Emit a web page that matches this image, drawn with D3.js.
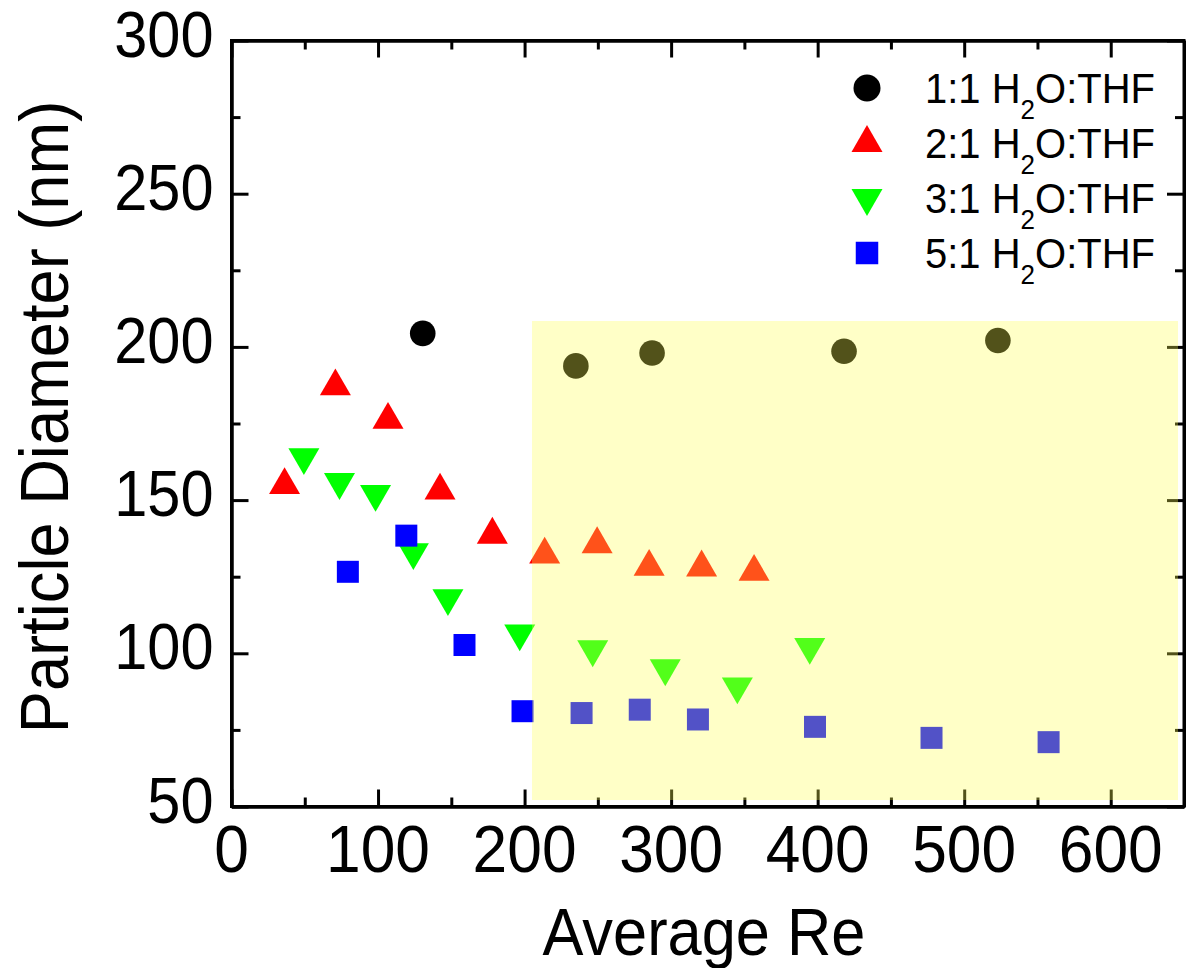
<!DOCTYPE html>
<html>
<head>
<meta charset="utf-8">
<script src="https://cdn.jsdelivr.net/npm/d3@7"></script>
<style>
  html, body { margin: 0; padding: 0; background: #fff; }
  svg { display: block; font-family: "Liberation Sans", Arial, Helvetica, sans-serif; }
</style>
</head>
<body>
<svg id="chart" width="1192" height="968"></svg>
<script>
// Particle diameter vs. average Reynolds number for four H2O:THF ratios
const re11 = [130.5, 235, 287, 418, 523];
const d11  = [204.4, 193.8, 198, 198.6, 202.1];

const re21 = [36.2, 70.9, 106.8, 142.3, 178, 213.7, 249.5, 285, 320.8, 356.6];
const d21  = [154.9, 187.1, 176.2, 153.1, 138.7, 132.2, 135.6, 128.2, 128, 126.6];

const re31 = [49.4, 73.7, 98.3, 124.1, 147.7, 196.7, 246.5, 296, 345.2, 394.6];
const d31  = [164, 155.9, 152, 133, 118, 106.5, 101.3, 95.1, 89.2, 102.1];

const re51 = [79.4, 119.3, 159, 198.6, 238.9, 278.6, 318.3, 398.2, 477.7, 557.6];
const d51  = [126.6, 138.4, 102.7, 81.1, 80.5, 81.6, 78.4, 76, 72.4, 71];

const seriesNames = ["1:1", "2:1", "3:1", "5:1"];
const xTicks = [0, 100, 200, 300, 400, 500, 600];
const xMinor = [50, 150, 250, 350, 450, 550, 650];
const yTicks = [50, 100, 150, 200, 250, 300];
const yMinor = [75, 125, 175, 225, 275];
const shadeRe = [205, 646];
const shadeD = [52, 208.4];

const svg = d3.select("#chart");
const squeeze = 0.93;

const x = d3.scaleLinear().domain([0, 650]).range([231.5, 1184]);
const y = d3.scaleLinear().domain([50, 300]).range([806.5, 40.5]);

// marker shapes
const sym = {
  circle: r => `M${r},0A${r},${r} 0 1,1 ${-r},0A${r},${r} 0 1,1 ${r},0Z`,
  up: s => { const h = s * Math.sqrt(3) / 2; return `M0,${-2*h/3}L${s/2},${h/3}L${-s/2},${h/3}Z`; },
  down: s => { const h = s * Math.sqrt(3) / 2; return `M0,${2*h/3}L${s/2},${-h/3}L${-s/2},${-h/3}Z`; },
  square: s => `M${-s/2},${-s/2}h${s}v${s}h${-s}Z`
};

const series = [
  { name: seriesNames[0], xs: re11, ys: d11, color: "#000000", path: sym.circle(12.8) },
  { name: seriesNames[1], xs: re21, ys: d21, color: "#ff0000", path: sym.up(31) },
  { name: seriesNames[2], xs: re31, ys: d31, color: "#00ff00", path: sym.down(31) },
  { name: seriesNames[3], xs: re51, ys: d51, color: "#0000ff", path: sym.square(22) }
];

// data markers
series.forEach(s => {
  svg.append("g").selectAll("path")
    .data(s.xs.map((v, i) => [v, s.ys[i]]))
    .join("path")
    .attr("d", s.path)
    .attr("fill", s.color)
    .attr("transform", d => `translate(${x(d[0])},${y(d[1])})`);
});

// axes: ticks point inward on all four sides
function styleAxis(g) {
  g.selectAll(".domain").attr("stroke", "#000").attr("stroke-width", 3);
  g.selectAll(".tick line").attr("stroke", "#000").attr("stroke-width", 3);
  g.selectAll("text").remove();
}
const majorLen = 17, minorLen = 9;
svg.append("g").attr("transform", `translate(0,${y(50)})`)
  .call(d3.axisBottom(x).tickValues(xTicks).tickSizeInner(-majorLen).tickSizeOuter(0)).call(styleAxis);
svg.append("g").attr("transform", `translate(0,${y(50)})`)
  .call(d3.axisBottom(x).tickValues(xMinor).tickSizeInner(-minorLen).tickSizeOuter(0)).call(styleAxis);
svg.append("g").attr("transform", `translate(0,${y(300)})`)
  .call(d3.axisTop(x).tickValues(xTicks).tickSizeInner(-majorLen).tickSizeOuter(0)).call(styleAxis);
svg.append("g").attr("transform", `translate(0,${y(300)})`)
  .call(d3.axisTop(x).tickValues(xMinor).tickSizeInner(-minorLen).tickSizeOuter(0)).call(styleAxis);
svg.append("g").attr("transform", `translate(${x(0)},0)`)
  .call(d3.axisLeft(y).tickValues(yTicks).tickSizeInner(-majorLen).tickSizeOuter(0)).call(styleAxis);
svg.append("g").attr("transform", `translate(${x(0)},0)`)
  .call(d3.axisLeft(y).tickValues(yMinor).tickSizeInner(-minorLen).tickSizeOuter(0)).call(styleAxis);
svg.append("g").attr("transform", `translate(${x(650)},0)`)
  .call(d3.axisRight(y).tickValues(yTicks).tickSizeInner(-majorLen).tickSizeOuter(0)).call(styleAxis);
svg.append("g").attr("transform", `translate(${x(650)},0)`)
  .call(d3.axisRight(y).tickValues(yMinor).tickSizeInner(-minorLen).tickSizeOuter(0)).call(styleAxis);

// square off the frame corners
svg.append("rect")
  .attr("x", x(0)).attr("y", y(300))
  .attr("width", x(650) - x(0)).attr("height", y(50) - y(300))
  .attr("fill", "none").attr("stroke", "#000").attr("stroke-width", 3);

// translucent pale-yellow highlight over the high-Re region
svg.append("rect")
  .attr("x", Math.round(x(shadeRe[0])))
  .attr("y", Math.round(y(shadeD[1])))
  .attr("width", Math.round(x(shadeRe[1]) - x(shadeRe[0])))
  .attr("height", Math.round(y(shadeD[0]) - y(shadeD[1])))
  .attr("shape-rendering", "crispEdges")
  .attr("fill", "rgb(255,255,80)")
  .attr("fill-opacity", 0.32);

// tick labels
function label(tx, ty, str, size, anchor, rot) {
  return svg.append("text")
    .attr("transform", `translate(${tx},${ty})` + (rot ? ` rotate(${rot})` : "") + ` scale(${squeeze},1)`)
    .attr("text-anchor", anchor)
    .attr("font-size", size)
    .attr("fill", "#000")
    .text(str);
}
xTicks.forEach(v => label(x(v), 872, String(v), 67, "middle"));
yTicks.forEach(v => label(213.5, y(v) + 16, String(v), 64, "end"));

// axis titles
label(704, 955, "Average Re", 66, "middle");
label(68, 417, "Particle Diameter (nm)", 68, "middle", -90);

// legend
const legX = 867, legY0 = 88, legStep = 55;
series.forEach((s, i) => {
  const cy = legY0 + i * legStep;
  const lp = s.name === "1:1" ? sym.circle(13.5) : s.name === "5:1" ? sym.square(22.5) : s.path;
  svg.append("path").attr("d", lp).attr("fill", s.color)
    .attr("transform", `translate(${legX},${cy})`);
  const t = svg.append("text")
    .attr("transform", `translate(925,${cy + 15}) scale(${squeeze},1)`)
    .attr("font-size", 43).attr("fill", "#000");
  t.append("tspan").text(s.name + " H");
  t.append("tspan").attr("font-size", 28).attr("dy", 16).text("2");
  t.append("tspan").attr("dy", -16).text("O:THF");
});
</script>
</body>
</html>
